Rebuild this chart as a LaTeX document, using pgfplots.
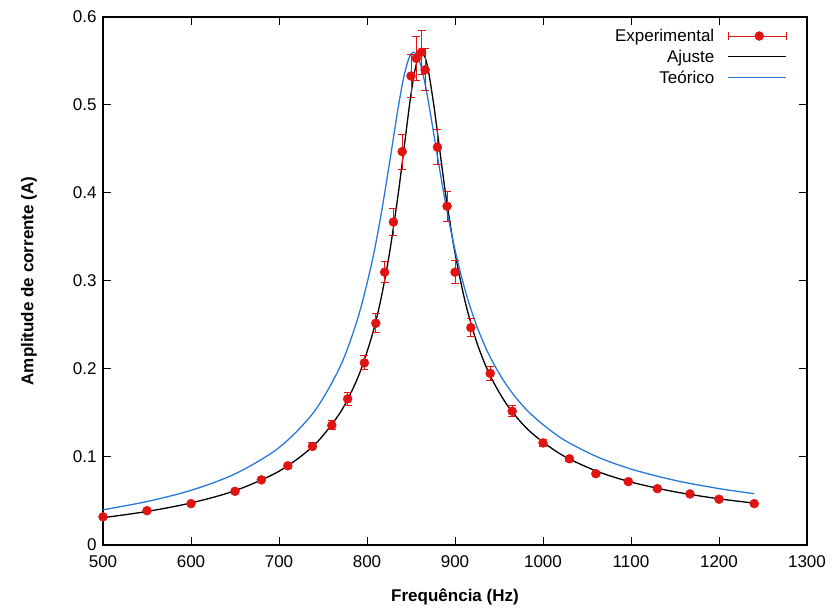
\documentclass[border=0pt]{standalone}
\usepackage{fontspec}
\setmainfont{Liberation Sans}
\usepackage{pgfplots}
\usepackage{pgfplotstable}
\pgfplotsset{compat=1.18}
\usetikzlibrary{calc}
\definecolor{myred}{RGB}{225,20,20}
\definecolor{myblue}{RGB}{40,120,220}

\pgfplotstableread{
x y ey
500 0.032 0.001
550 0.039 0.001
600 0.047 0.0015
650 0.061 0.002
680 0.074 0.002
710 0.090 0.003
738 0.112 0.004
760 0.136 0.005
778 0.166 0.007
797 0.207 0.008
810 0.252 0.011
820 0.310 0.012
830 0.367 0.015
840 0.447 0.020
850 0.533 0.024
856 0.553 0.025
862 0.560 0.025
866 0.540 0.024
880 0.452 0.020
891 0.385 0.017
900 0.310 0.013
918 0.247 0.010
940 0.195 0.008
965 0.152 0.006
1000 0.116 0.004
1030 0.098 0.003
1060 0.081 0.002
1097 0.072 0.002
1130 0.064 0.002
1167 0.058 0.0015
1200 0.052 0.0015
1240 0.047 0.001
}\expdata

\pgfplotstableread{
x y
500 0.0310
550 0.0381
600 0.0478
650 0.0617
700 0.0838
740 0.1135
770 0.1512
790 0.1912
805 0.2355
815 0.2756
825 0.3282
835 0.3955
842 0.4500
848 0.4978
853 0.5317
858 0.5541
862 0.5600
866 0.5541
870 0.5376
876 0.4993
882 0.4538
890 0.3944
900 0.3320
912 0.2745
925 0.2295
940 0.1923
960 0.1580
985 0.1292
1020 0.1032
1060 0.0843
1100 0.0715
1150 0.0604
1200 0.0525
1240 0.0476
}\fitdata

\pgfplotstableread{
x y
500 0.0400
550 0.0494
600 0.0621
650 0.0808
700 0.1106
740 0.1516
770 0.2039
790 0.2592
805 0.3186
815 0.3698
825 0.4304
835 0.4944
842 0.5328
848 0.5541
853 0.5600
858 0.5541
862 0.5417
866 0.5240
870 0.5024
876 0.4666
882 0.4301
890 0.3844
900 0.3352
912 0.2878
925 0.2481
940 0.2134
960 0.1796
985 0.1499
1020 0.1219
1060 0.1009
1100 0.0863
1150 0.0734
1200 0.0641
1240 0.0583
}\teodata

\begin{document}
\begin{tikzpicture}
\begin{axis}[
  scale only axis,
  width=704pt, height=528pt,
  xmin=500, xmax=1300, ymin=0, ymax=0.6,
  xtick={500,600,...,1300},
  ytick={0,0.1,0.2,0.3,0.4,0.5,0.6},
  yticklabels={0,0.1,0.2,0.3,0.4,0.5,0.6},
  /pgf/number format/1000 sep={},
  /pgf/number format/assume math mode=true,
  font=\fontsize{17}{20}\selectfont,
  tick label style={font=\fontsize{17}{20}\selectfont},
  xticklabel style={yshift=-7pt},
  yticklabel style={xshift=-3pt},
  tick align=inside,
  major tick length=8pt,
  minor tick num=0,
  axis line style={line width=1.2pt},
  every tick/.style={black, line width=1pt},
  xlabel={\textbf{Frequência (Hz)}},
  ylabel={\textbf{Amplitude de corrente (A)}},
  xlabel style={at={(axis description cs:0.5,-0.0985)}, anchor=center},
  ylabel style={at={(axis description cs:-0.105,0.5)}, anchor=center},
  legend style={draw=none, fill=none, at={(0.976,0.985)}, anchor=north east,
    font=\fontsize{17}{20}\selectfont, row sep=3pt},
  legend cell align=right,
  legend plot pos=right,
]
\addplot[black, line width=1.3pt, smooth, mark=none, forget plot] table[x=x, y=y] {\fitdata};
\addplot[myblue, line width=1.3pt, smooth, mark=none, forget plot] table[x=x, y=y] {\teodata};
\addplot[draw=none, mark=*, mark size=4.5pt, forget plot,
  mark options={draw=myred, fill=myred},
  error bars/.cd, y dir=both, y explicit,
  error bar style={draw=myred, solid, line width=1pt},
  error mark options={rotate=90, mark size=4pt, draw=myred, line width=1pt},
  ] table[x=x, y=y, y error=ey] {\expdata};
\addlegendimage{legend image code/.code={
  \path[draw=none, fill=none] (0pt,-1pt) rectangle (1pt,1pt);
  \draw[myred, line width=0.8pt] (12pt,0pt) -- (70pt,0pt);
  \draw[myred, line width=0.8pt] (12pt,-4pt) -- (12pt,4pt);
  \draw[myred, line width=0.8pt] (70pt,-4pt) -- (70pt,4pt);
  \fill[myred] (43pt,0pt) circle (4.5pt);}}
\addlegendentry{Experimental}
\addlegendimage{legend image code/.code={\path[draw=none, fill=none] (0pt,-1pt) rectangle (1pt,1pt); \draw[black, line width=1.3pt] (12pt,0pt) -- (70pt,0pt);}}
\addlegendentry{Ajuste}
\addlegendimage{legend image code/.code={\path[draw=none, fill=none] (0pt,-1pt) rectangle (1pt,1pt); \draw[myblue, line width=1.3pt] (12pt,0pt) -- (70pt,0pt);}}
\addlegendentry{Teórico}
\end{axis}
\pgfresetboundingbox
\path[use as bounding box] ($(current axis.south west)+(-103pt,-71pt)$) rectangle ($(current axis.north east)+(32pt,17pt)$);
\end{tikzpicture}
\end{document}
